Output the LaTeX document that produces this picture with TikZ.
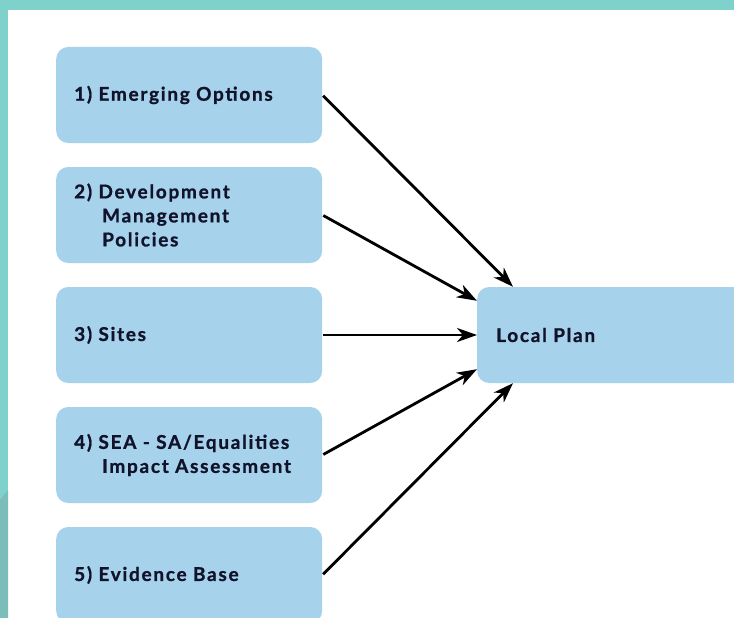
\documentclass[tikz,border=0pt]{standalone}
\usepackage{fontspec}
\setmainfont{Lato}[UprightFont=* Bold, LetterSpace=9, FakeBold=1]
\usepackage{tikz}
\usetikzlibrary{arrows.meta}
\definecolor{teal-band}{HTML}{7FD1CB}
\definecolor{teal-dark}{HTML}{7BBDB9}
\definecolor{box-blue}{HTML}{A7D2EC}
\definecolor{ink}{HTML}{10132A}
\tikzset{
    input-box/.style = {fill=box-blue, rectangle, rounded corners=12pt, minimum width=266pt, minimum height=96pt, text width=230pt, inner xsep=18pt, align=left, anchor=west, text=ink, font=\fontsize{19}{24}\selectfont},
    plan-box/.style = {input-box, minimum width=268pt, text width=230pt, inner xsep=19pt},
    feed-arrow/.style = {-{Stealth[length=20pt,width=14pt,inset=6pt]}, line width=2.8pt, shorten <=1pt},
}

\begin{document}
\begin{tikzpicture}[x=1pt, y=-1pt]
\useasboundingbox (0,0) rectangle (734,618);
\fill[white] (0,0) rectangle (734,618);
\fill[teal-band] (0,0) rectangle (734,10);
\fill[teal-band] (0,0) rectangle (8,618);
\fill[teal-dark] (0,500) -- (8,490) -- (8,618) -- (0,618) -- cycle;

\begin{scope}
\clip (0,0) rectangle (734,618);
\node [input-box] (options) at (56,95) {1) Emerging Options};
\node [input-box] (policies) at (56,215) {2) Development\\\hspace*{28pt}Management\\\hspace*{28pt}Policies};
\node [input-box] (sites) at (56,335) {3) Sites};
\node [input-box] (sea) at (56,455) {4) SEA - SA/Equalities\\\hspace*{28pt}Impact Assessment};
\node [input-box] (evidence) at (56,575) {5) Evidence Base};
\node [plan-box] (plan) at (477,335) {Local Plan};
\end{scope}

\draw [feed-arrow] (options.east) -- ([xshift=36pt]plan.north west);
\draw [feed-arrow] (policies.east) -- ([yshift=-14pt]plan.north west);
\draw [feed-arrow] (sites.east) -- (plan.west);
\draw [feed-arrow] (sea.east) -- ([yshift=14pt]plan.south west);
\draw [feed-arrow] (evidence.east) -- ([xshift=36pt]plan.south west);
\end{tikzpicture}
\end{document}
